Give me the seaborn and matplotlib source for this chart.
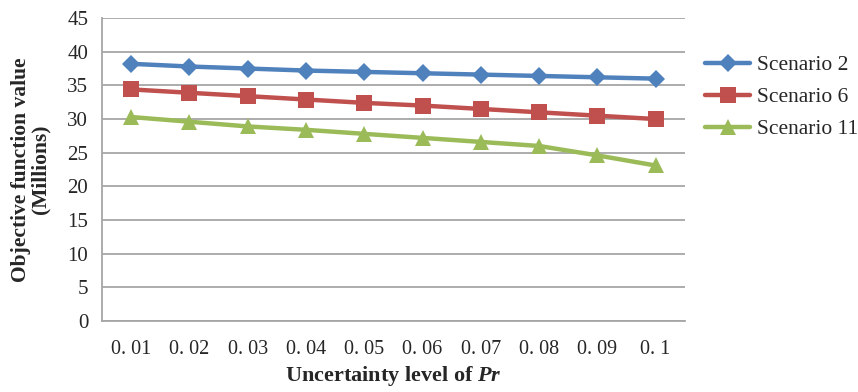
import matplotlib
matplotlib.use("Agg")
import matplotlib.pyplot as plt
import seaborn as sns
import pandas as pd

levels = ["0. 01", "0. 02", "0. 03", "0. 04", "0. 05", "0. 06", "0. 07", "0. 08", "0. 09", "0. 1"]
scenario_2 = [38.2, 37.8, 37.5, 37.2, 37.0, 36.8, 36.6, 36.4, 36.2, 36.0]
scenario_6 = [34.4, 33.9, 33.4, 32.9, 32.4, 32.0, 31.5, 31.0, 30.5, 30.0]
scenario_11 = [30.3, 29.6, 28.9, 28.4, 27.8, 27.2, 26.6, 26.0, 24.6, 23.1]
series_names = ["Scenario 2", "Scenario 6", "Scenario 11"]
yticks = list(range(0, 50, 5))

rows = []
for name, vals in zip(series_names, [scenario_2, scenario_6, scenario_11]):
    for lv, v in zip(levels, vals):
        rows.append({"level": lv, "value": v, "series": name})
df = pd.DataFrame(rows)

sns.set_style("white")
plt.rcParams["font.family"] = ["Liberation Serif", "DejaVu Serif"]
plt.rcParams["mathtext.fontset"] = "custom"
plt.rcParams["mathtext.it"] = "Liberation Serif:italic:bold"
plt.rcParams["mathtext.rm"] = "Liberation Serif:bold"

fig = plt.figure(figsize=(8.58, 3.92), dpi=100)
ax = fig.add_axes([0.119, 0.181, 0.679, 0.773])

palette = {"Scenario 2": "#4F81BD", "Scenario 6": "#C0504D", "Scenario 11": "#9BBB59"}
markers = {"Scenario 2": "D", "Scenario 6": "s", "Scenario 11": "^"}
sizes = {"Scenario 2": 9, "Scenario 6": 11, "Scenario 11": 11}

for name in series_names:
    sub = df[df["series"] == name]
    sns.lineplot(data=sub, x="level", y="value", ax=ax, color=palette[name],
                 marker=markers[name], markersize=sizes[name], markeredgewidth=0,
                 linewidth=3.2, label=name, sort=False)

ax.set_xlim(-0.5, len(levels) - 0.5)
ax.set_ylim(0, 45)
ax.set_yticks(yticks)
ax.yaxis.grid(True, color="#A6A6A6", linewidth=1.3)
ax.set_axisbelow(True)
for s in ["top", "right"]:
    ax.spines[s].set_visible(False)
for s in ["left", "bottom"]:
    ax.spines[s].set_color("#A6A6A6")
    ax.spines[s].set_linewidth(1.3)
ax.tick_params(axis="y", length=5, color="#A6A6A6", labelsize=15, pad=5)
ax.tick_params(axis="x", length=0, labelsize=14.5, pad=14)
ax.set_xlabel("Uncertainty level of $Pr$", fontsize=16, fontweight="bold", labelpad=3)
ax.set_ylabel("Objective function value\n(Millions)", fontsize=15.5, fontweight="bold",
              labelpad=12, linespacing=1.0)

leg = ax.legend(loc="upper left", bbox_to_anchor=(1.02, 0.905), frameon=False,
                fontsize=15.5, handlelength=2.1, labelspacing=0.55, handletextpad=0.3,
                borderaxespad=0)

fig.savefig("out.png", dpi=100)
